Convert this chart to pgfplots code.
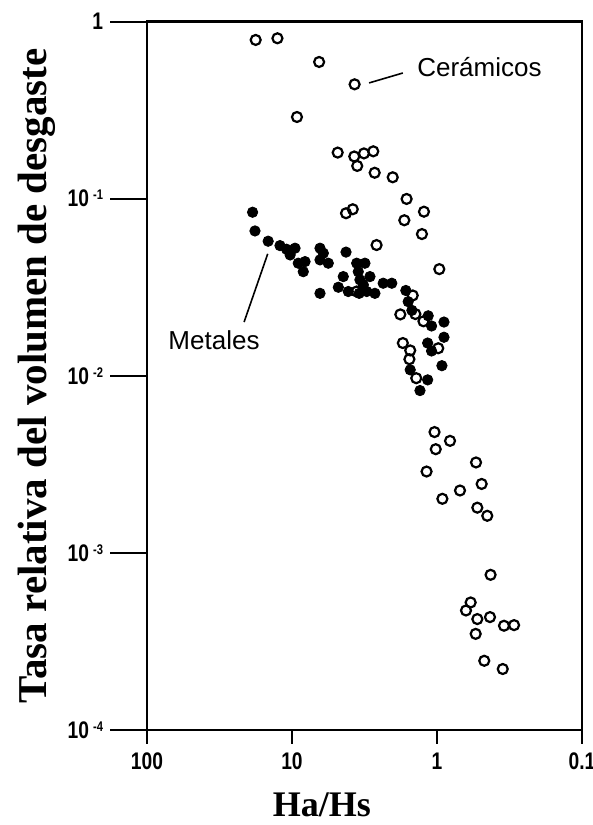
\documentclass[border=0pt]{standalone}
\usepackage{pgfplots}
\pgfplotsset{compat=1.18}
\usepackage{fontspec}
\setmainfont{Liberation Serif}
\setsansfont{Liberation Sans}
\newfontfamily\tickfont[FakeStretch=0.8]{Liberation Sans}
\usetikzlibrary{calc}

\newcommand{\dec}[1]{10\,\raisebox{0.55ex}{\fontsize{7}{7}\selectfont #1}}

\begin{document}
\begin{tikzpicture}
\begin{axis}[
  xmode=log, ymode=log,
  x dir=reverse,
  xmin=0.1, xmax=100, ymin=1e-4, ymax=1,
  width=217.5pt, height=354.25pt, scale only axis,
  axis line style={line width=1.1pt},
  xtick={100,10,1,0.1}, xticklabels={100,10,1,0.1},
  ytick={1e-4,1e-3,1e-2,1e-1,1},
  yticklabels={\dec{-4},\dec{-3},\dec{-2},\dec{-1},1},
  tick pos=left,
  tick align=outside,
  major tick length=18.5pt,
  xtick style={/pgfplots/major tick length=7pt, line width=1.1pt, black},
  ytick style={line width=1pt, black},
  minor tick num=0, minor tick length=0pt,
  minor tick style={draw=none},
  ticklabel style={font=\tickfont\bfseries\fontsize{12}{12}\selectfont},
  xticklabel style={yshift=10.5pt},
  xlabel={Ha/Hs},
  ylabel={Tasa relativa del volumen de desgaste},
  xlabel style={at={(axis description cs:0.402,-0.122)}, anchor=base,
    font=\bfseries\fontsize{18}{18}\selectfont},
  ylabel style={at={(axis description cs:-0.195,0.5)}, anchor=south,
    font=\bfseries\fontsize{20.5}{20.5}\selectfont},
  clip=false,
]
% Ceramicos (open)
\addplot[only marks, mark=o, mark size=2.5pt, mark options={line width=1.1pt, black}] coordinates {
(17.8,0.787) (12.6,0.804) (6.5,0.591) (3.70,0.442) (9.24,0.289)
(4.84,0.182) (3.72,0.173) (3.19,0.180) (2.75,0.185) (3.55,0.153)
(2.69,0.140) (2.02,0.132) (1.62,0.0996) (1.23,0.0844) (1.68,0.0755)
(1.27,0.0631) (4.24,0.0827) (3.81,0.0871) (2.61,0.0547) (0.964,0.0400)
(1.47,0.0284) (1.79,0.0222) (1.41,0.0223) (1.24,0.0203) (0.98,0.0143)
(1.72,0.0153) (1.53,0.0139) (1.55,0.0124) (1.39,0.00969) (3.58,0.0299)
(1.04,0.00481) (0.813,0.00429) (1.02,0.00385) (1.18,0.00288) (0.538,0.00324)
(0.492,0.00245) (0.694,0.00225) (0.918,0.00202) (0.527,0.00180) (0.450,0.00162)
(0.427,0.000752) (0.586,0.000525) (0.631,0.000473) (0.527,0.000423) (0.431,0.000434)
(0.345,0.000388) (0.294,0.000391) (0.541,0.000349) (0.472,0.000246) (0.352,0.000221)
};
% Metales (filled)
\addplot[only marks, mark=*, mark size=2.6pt, black] coordinates {
(18.7,0.0838) (18.0,0.0657) (14.6,0.0575) (12.1,0.0543) (10.9,0.0518)
(9.53,0.0525) (10.3,0.0481) (9.05,0.0432) (8.13,0.0441) (8.36,0.0387)
(6.41,0.0525) (6.08,0.0492) (6.41,0.0451) (5.62,0.0432) (4.24,0.0499)
(6.41,0.0292) (4.43,0.0363) (4.79,0.0316) (4.09,0.0299) (3.58,0.0432)
(3.14,0.0432) (3.49,0.0387) (3.40,0.0348) (3.22,0.0326) (2.90,0.0363)
(3.05,0.0299) (2.68,0.0292) (3.44,0.0292) (2.35,0.0333) (2.05,0.0333)
(1.64,0.0303) (1.58,0.0262) (1.49,0.0234) (1.15,0.0218) (1.09,0.0191)
(0.895,0.0201) (0.895,0.0165) (1.16,0.0153) (1.09,0.0138) (0.925,0.0114)
(1.53,0.0108) (1.16,0.00948) (1.31,0.00825)
};
\draw[line width=0.8pt] (axis cs:2.94,0.450) -- (axis cs:1.72,0.512);
\node[anchor=west, font=\sffamily\fontsize{13}{13}\selectfont] at (axis cs:1.53,0.553) {Cerámicos};
\draw[line width=0.8pt] (axis cs:21.4,0.0201) -- (axis cs:14.7,0.0488);
\node[font=\sffamily\fontsize{13}{13}\selectfont] at (axis cs:34.5,0.01594) {Metales};
\coordinate (SW) at (axis description cs:0,0);
\coordinate (NE) at (axis description cs:1,1);
\end{axis}
\pgfresetboundingbox
\path ($(SW)+(-73.5pt,-47.5pt)$) rectangle ($(NE)+(5.5pt,10.75pt)$);
\end{tikzpicture}
\end{document}
